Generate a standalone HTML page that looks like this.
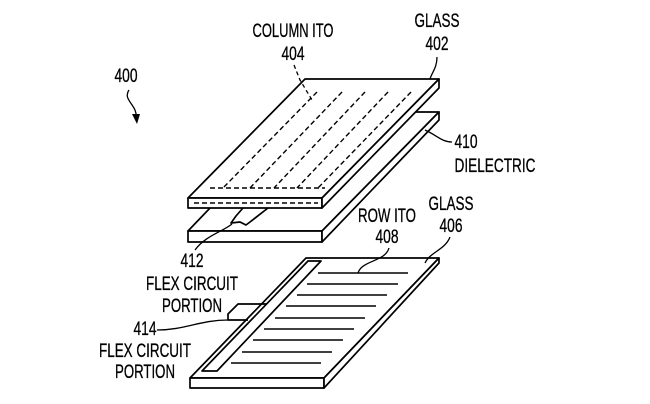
<!DOCTYPE html>
<html><head><style>html,body{margin:0;padding:0;background:#fff;}svg{display:block}</style></head>
<body>
<svg width="650" height="404" viewBox="0 0 650 404" xmlns="http://www.w3.org/2000/svg">
<g fill="none" stroke="#000" stroke-width="1.7" stroke-linejoin="round">
<polygon points="188,231 322,231 439,112 302,112" fill="#fff"/>
<polygon points="188,231 322,231 322,242 188,242" fill="#fff"/>
<polygon points="322,231 439,112 439,120 322,242" fill="#fff"/>
<path d="M243,208 L236,216 L231,223 L240,222 L246,225 L250,222 L268,208" fill="#fff"/>
<path d="M232,224 C222,232 205,236 195,250" stroke-width="1.3"/>
<polygon points="188,198 322,198 439,79 305,79" fill="#fff"/>
<polygon points="188,198 322,198 322,208 188,208" fill="#fff"/>
<polygon points="322,198 439,79 439,88 322,208" fill="#fff"/>
<g stroke-dasharray="5,3" stroke-width="1.4">
<line x1="317" y1="92" x2="223" y2="188"/>
<line x1="342" y1="92" x2="250" y2="188"/>
<line x1="365" y1="92" x2="274" y2="188"/>
<line x1="388" y1="92" x2="297" y2="188"/>
<line x1="411" y1="92" x2="318" y2="188"/>
<line x1="210" y1="188" x2="325" y2="188"/>
<line x1="194" y1="203" x2="318" y2="203"/>
</g>
<polygon points="190,378 324,378 439,258 306,258" fill="#fff"/>
<polygon points="190,378 324,378 324,388 190,388" fill="#fff"/>
<polygon points="324,378 439,258 439,263 324,388" fill="#fff"/>
<polygon points="308,261 321,261 217,371 202,371"/>
<path d="M267,304 L238,304 L228,314 L228,320 L248,320"/>
<g stroke-width="1.6">
<line x1="318" y1="273" x2="408" y2="273"/>
<line x1="307" y1="284" x2="398" y2="284"/>
<line x1="297" y1="295" x2="387" y2="295"/>
<line x1="286" y1="306" x2="376" y2="306"/>
<line x1="275" y1="318" x2="365" y2="318"/>
<line x1="264" y1="329" x2="354" y2="329"/>
<line x1="253" y1="340" x2="343" y2="340"/>
<line x1="242" y1="352" x2="332" y2="352"/>
<line x1="231" y1="363" x2="321" y2="363"/>
</g>
<path d="M129,90 C122,100 138,105 136,118" stroke-width="1.3"/>
<polygon points="132,114 140,114 137,124" fill="#000" stroke="none"/>
<path d="M294,65 L300,80 L312,100" stroke-dasharray="4,3" stroke-width="1.3"/>
<path d="M437,57 C437,68 432,72 430,79" stroke-width="1.3"/>
<path d="M425,130 C438,136 442,142 452,142" stroke-width="1.3"/>
<path d="M450,237 C445,250 430,252 425,263" stroke-width="1.3"/>
<path d="M389,248 C385,262 362,260 358,273" stroke-width="1.3"/>
<path d="M157,330 C185,330 200,320 228,320" stroke-width="1.3"/>
</g>
<g font-family="'Liberation Sans', sans-serif" font-size="19" fill="#000" stroke="#000" stroke-width="0.3" text-anchor="middle">
<text x="126" y="82" textLength="23" lengthAdjust="spacingAndGlyphs">400</text>
<text x="293" y="37" textLength="81" lengthAdjust="spacingAndGlyphs">COLUMN ITO</text>
<text x="293" y="60" textLength="23" lengthAdjust="spacingAndGlyphs">404</text>
<text x="437" y="27" textLength="45" lengthAdjust="spacingAndGlyphs">GLASS</text>
<text x="437" y="50" textLength="23" lengthAdjust="spacingAndGlyphs">402</text>
<text x="466" y="148" textLength="23" lengthAdjust="spacingAndGlyphs">410</text>
<text x="495" y="172" textLength="81" lengthAdjust="spacingAndGlyphs">DIELECTRIC</text>
<text x="451" y="210" textLength="45" lengthAdjust="spacingAndGlyphs">GLASS</text>
<text x="451" y="232" textLength="23" lengthAdjust="spacingAndGlyphs">406</text>
<text x="387" y="222" textLength="58" lengthAdjust="spacingAndGlyphs">ROW ITO</text>
<text x="387" y="243" textLength="23" lengthAdjust="spacingAndGlyphs">408</text>
<text x="192" y="267" textLength="23" lengthAdjust="spacingAndGlyphs">412</text>
<text x="192" y="290" textLength="92" lengthAdjust="spacingAndGlyphs">FLEX CIRCUIT</text>
<text x="192" y="312" textLength="60" lengthAdjust="spacingAndGlyphs">PORTION</text>
<text x="145" y="335" textLength="23" lengthAdjust="spacingAndGlyphs">414</text>
<text x="145" y="357" textLength="92" lengthAdjust="spacingAndGlyphs">FLEX CIRCUIT</text>
<text x="145" y="378" textLength="60" lengthAdjust="spacingAndGlyphs">PORTION</text>
</g>
</svg>
</body></html>
